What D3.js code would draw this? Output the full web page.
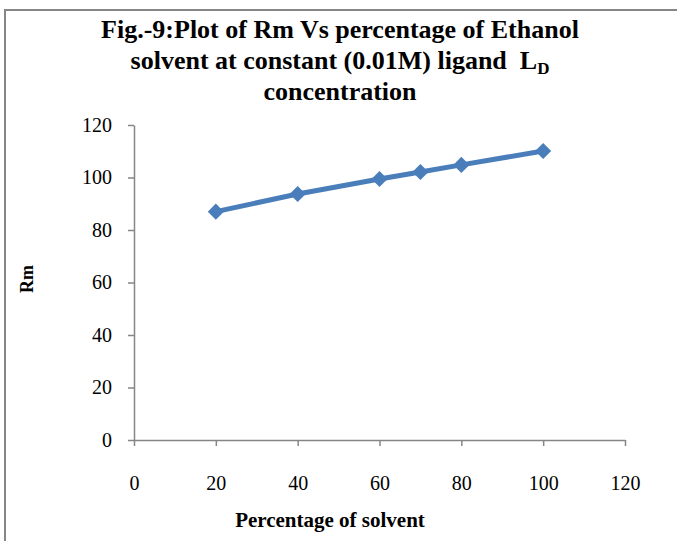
<!DOCTYPE html>
<html><head><meta charset="utf-8">
<script src="https://cdn.jsdelivr.net/npm/d3@7"></script>
<style>body{margin:0;background:#fff}svg{display:block}text{white-space:pre}</style>
</head><body>
<script>
const xValues = [20, 40, 60, 70, 80, 100];
const rmValues = [87, 93.7, 99.4, 102.1, 104.8, 110.1];
const xTicks = [0, 20, 40, 60, 80, 100, 120];
const yTicks = [0, 20, 40, 60, 80, 100, 120];

const W = 677, H = 541;
const svg = d3.select("body").append("svg").attr("width", W).attr("height", H);
const font = "'Liberation Serif','Times New Roman',serif";
const grey = "#868686";
const blue = "#4a7ebb";

// frame
svg.append("path").attr("d", `M5,${H} V10 H${W}`).attr("fill","none").attr("stroke", grey).attr("stroke-width", 2);

const x = d3.scaleLinear().domain([0,120]).range([134,625]);
const y = d3.scaleLinear().domain([0,120]).range([440,125]);

// axes
const xAxis = svg.append("g").attr("transform","translate(0,440)")
  .call(d3.axisBottom(x).tickValues(xTicks).tickSize(6).tickPadding(30).tickSizeOuter(0));
const yAxis = svg.append("g").attr("transform","translate(134,0)")
  .call(d3.axisLeft(y).tickValues(yTicks).tickSize(6).tickPadding(16).tickSizeOuter(0));
[xAxis,yAxis].forEach(g=>{
  g.selectAll("path,line").attr("stroke", grey).attr("stroke-width", 1.5);
  g.selectAll("text").attr("font-family", font).attr("font-size", 20).attr("fill","#000");
});

// line
const pts = xValues.map((v,i)=>[v,rmValues[i]]);
svg.append("path").datum(pts)
  .attr("d", d3.line().x(d=>x(d[0])).y(d=>y(d[1])))
  .attr("fill","none").attr("stroke", blue).attr("stroke-width", 5).attr("stroke-linejoin","round");
svg.selectAll(".pt").data(pts).enter().append("path")
  .attr("transform", d=>`translate(${x(d[0])},${y(d[1])})`)
  .attr("d", d3.symbol(d3.symbolDiamond2, 165)).attr("fill", blue);

// title
const titleAttrs = s => s.attr("font-family", font).attr("font-weight","bold").attr("font-size", 26)
  .attr("text-anchor","middle").attr("fill","#000").attr("x",340);
svg.append("text").call(titleAttrs).attr("y",38).text("Fig.-9:Plot of Rm Vs percentage of Ethanol");
const t2 = svg.append("text").call(titleAttrs).attr("y",69);
t2.append("tspan").text("solvent at constant (0.01M) ligand  L");
t2.append("tspan").attr("font-size",17).attr("dy",5).text("D");
svg.append("text").call(titleAttrs).attr("y",100).text("concentration");

// axis titles
svg.append("text").attr("font-family", font).attr("font-weight","bold").attr("font-size",21)
  .attr("text-anchor","middle").attr("x",330).attr("y",527).text("Percentage of solvent");
svg.append("text").attr("font-family", font).attr("font-weight","bold").attr("font-size",18)
  .attr("text-anchor","middle").attr("transform","translate(33,279) rotate(-90)").text("Rm");
</script>
</body></html>
